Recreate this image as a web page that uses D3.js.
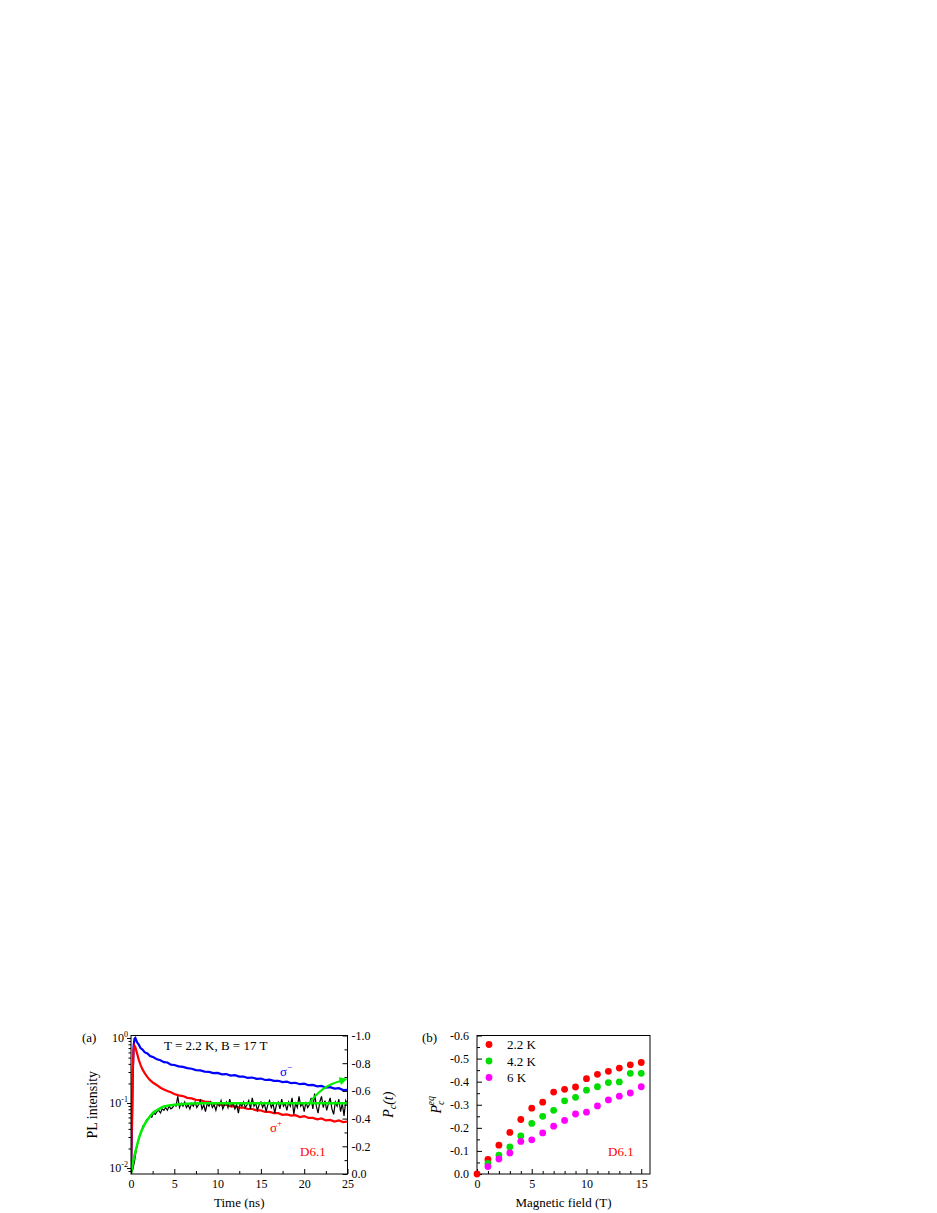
<!DOCTYPE html>
<html>
<head>
<meta charset="utf-8">
<script src="https://cdn.jsdelivr.net/npm/d3@7"></script>
<style>
  body { margin: 0; background: #fff; }
  svg { display: block; font-family: "Liberation Serif", "Times New Roman", serif; }
</style>
</head>
<body>
<svg id="fig"></svg>
<script>
// ---- panel (a): time-resolved PL, sigma- / sigma+ (log scale) ----
const tPL = [0, 0.1, 0.2, 0.3, 0.4, 0.5, 0.7, 0.9, 1.1, 1.3, 1.6, 1.9, 2.2, 2.6, 3.0, 3.4, 3.8, 4.2, 4.6, 5.0,
  5.5, 6, 6.5, 7, 7.5, 8, 8.5, 9, 9.5, 10, 10.5, 11, 11.5, 12, 12.5, 13, 13.5, 14, 14.5, 15,
  15.5, 16, 16.5, 17, 17.5, 18, 18.5, 19, 19.5, 20, 20.5, 21, 21.5, 22, 22.5, 23, 23.5, 24, 24.5, 25]
const sigmaMinus = [0.0085, 0.03, 0.25, 0.75, 0.97, 1.0, 0.86, 0.79, 0.70, 0.67, 0.60, 0.58, 0.53, 0.505, 0.47, 0.455, 0.425, 0.42, 0.39, 0.385,
  0.366, 0.359, 0.344, 0.337, 0.321, 0.318, 0.305, 0.302, 0.289, 0.291, 0.276, 0.279, 0.264, 0.268, 0.255, 0.254, 0.243, 0.247, 0.236, 0.238,
  0.226, 0.229, 0.219, 0.220, 0.210, 0.213, 0.202, 0.205, 0.195, 0.199, 0.188, 0.190, 0.181, 0.183, 0.172, 0.175, 0.167, 0.169, 0.158, 0.160]
const sigmaPlus = [0.0085, 0.05, 0.32, 0.66, 0.76, 0.72, 0.58, 0.46, 0.385, 0.335, 0.285, 0.25, 0.225, 0.203, 0.188, 0.172, 0.162, 0.153, 0.146, 0.138,
  0.131, 0.128, 0.120, 0.118, 0.112, 0.111, 0.105, 0.104, 0.098, 0.098, 0.093, 0.094, 0.089, 0.089, 0.085, 0.085, 0.081, 0.081, 0.077, 0.077,
  0.073, 0.073, 0.070, 0.070, 0.066, 0.067, 0.064, 0.065, 0.061, 0.063, 0.059, 0.059, 0.056, 0.058, 0.054, 0.055, 0.052, 0.054, 0.051, 0.052]

// measured Pc(t) (right axis)
const tPc = [0, 0.2, 0.4, 0.6, 0.8, 1.0, 1.2, 1.4, 1.6, 1.8, 2.0, 2.2, 2.4, 2.6, 2.8, 3.0, 3.2, 3.4, 3.6, 3.8,
  4.0, 4.2, 4.4, 4.6, 4.8, 5.0, 5.2, 5.4, 5.6, 5.8, 6.0, 6.2, 6.4, 6.6, 6.8, 7.0, 7.2, 7.4, 7.6, 7.8,
  8.0, 8.2, 8.4, 8.6, 8.8, 9.0, 9.2, 9.4, 9.6, 9.8, 10.0, 10.2, 10.4, 10.6, 10.8, 11.0, 11.2, 11.4, 11.6, 11.8,
  12.0, 12.2, 12.4, 12.6, 12.8, 13.0, 13.2, 13.4, 13.6, 13.8, 14.0, 14.2, 14.4, 14.6, 14.8, 15.0, 15.2, 15.4, 15.6, 15.8,
  16.0, 16.2, 16.4, 16.6, 16.8, 17.0, 17.2, 17.4, 17.6, 17.8, 18.0, 18.2, 18.4, 18.6, 18.8, 19.0, 19.2, 19.4, 19.6, 19.8,
  20.0, 20.2, 20.4, 20.6, 20.8, 21.0, 21.2, 21.4, 21.6, 21.8, 22.0, 22.2, 22.4, 22.6, 22.8, 23.0, 23.2, 23.4, 23.6, 23.8,
  24.0, 24.2, 24.4, 24.6, 24.8, 25.0]
const pcMeasured = [0, -0.03, -0.09, -0.17, -0.23, -0.28, -0.31, -0.35, -0.36, -0.39, -0.40, -0.42, -0.41, -0.44, -0.43, -0.45, -0.46, -0.44, -0.47, -0.46,
  -0.48, -0.46, -0.49, -0.47, -0.48, -0.50, -0.49, -0.56, -0.48, -0.51, -0.49, -0.52, -0.48, -0.50, -0.47, -0.51, -0.49, -0.52, -0.48, -0.50,
  -0.53, -0.47, -0.50, -0.45, -0.51, -0.49, -0.52, -0.48, -0.50, -0.46, -0.51, -0.49, -0.53, -0.47, -0.50, -0.52, -0.48, -0.54, -0.49, -0.51,
  -0.47, -0.50, -0.44, -0.51, -0.49, -0.52, -0.48, -0.50, -0.53, -0.47, -0.55, -0.49, -0.51, -0.46, -0.50, -0.52, -0.48, -0.51, -0.45, -0.50,
  -0.53, -0.48, -0.51, -0.44, -0.50, -0.52, -0.47, -0.54, -0.49, -0.51, -0.46, -0.52, -0.49, -0.55, -0.43, -0.51, -0.48, -0.56, -0.49, -0.51,
  -0.45, -0.52, -0.48, -0.50, -0.55, -0.47, -0.58, -0.49, -0.44, -0.52, -0.56, -0.48, -0.53, -0.46, -0.51, -0.55, -0.47, -0.43, -0.52, -0.49,
  -0.54, -0.45, -0.51, -0.42, -0.53, -0.50]

// fit of Pc(t)
const fitT = [0, 0.25, 0.5, 0.75, 1.0, 1.5, 2.0, 2.5, 3.0, 3.5, 4.0, 5.0, 6.0, 8.0, 12, 16, 20, 25]
const fitP = [0, -0.09, -0.16, -0.22, -0.275, -0.35, -0.40, -0.44, -0.46, -0.48, -0.49, -0.50, -0.505, -0.51, -0.51, -0.51, -0.51, -0.51]

// arrow towards the right axis
const arrowT = [20.5, 21.3, 22.2, 23.2, 24.2]
const arrowP = [-0.505, -0.565, -0.615, -0.65, -0.672]

// ---- panel (b): equilibrium polarisation vs field ----
const fieldB = [0, 1, 2, 3, 4, 5, 6, 7, 8, 9, 10, 11, 12, 13, 14, 15]
const seriesNames = ["2.2 K", "4.2 K", "6 K"]
const seriesColors = ["#ff0000", "#00dd00", "#ff00ff"]
const pc22 = [0, -0.063, -0.125, -0.18, -0.236, -0.285, -0.311, -0.355, -0.367, -0.377, -0.413, -0.432, -0.445, -0.459, -0.473, -0.483]
const pc42 = [null, -0.046, -0.082, -0.117, -0.165, -0.219, -0.25, -0.276, -0.317, -0.332, -0.363, -0.378, -0.396, -0.399, -0.436, -0.436]
const pc6 = [null, -0.032, -0.065, -0.091, -0.141, -0.148, -0.178, -0.207, -0.232, -0.26, -0.268, -0.295, -0.321, -0.337, -0.351, -0.378]

const W = 937, H = 1213
const A = {left: 131, right: 347.5, top: 1035.5, bottom: 1174}
const B = {left: 477, right: 650, top: 1035.5, bottom: 1174}
const font = 13

const svg = d3.select("#fig").attr("width", W).attr("height", H)

const xA = d3.scaleLinear().domain([0, 25]).range([A.left, A.right])
const yA = d3.scaleLog().domain([0.0081, 1.093]).range([A.bottom, A.top])
const yA2 = d3.scaleLinear().domain([0, -1]).range([A.bottom, A.top])

const xB = d3.scaleLinear().domain([0, 15.8]).range([B.left, B.right])
const yB = d3.scaleLinear().domain([0, -0.6]).range([B.bottom, B.top])

function axis(gen, tx, ty) {
    const g = svg.append("g")
        .attr("transform", `translate(${tx},${ty})`)
        .call(gen)
    g.attr("font-family", null).attr("font-size", 12)
    g.select(".domain").remove()
    g.selectAll("line").attr("stroke", "#000")
    g.selectAll("text").attr("fill", "#000")
    return g
}
const fmt1 = d => d.toFixed(1)

// clip
const defs = svg.append("defs")
defs.append("clipPath").attr("id", "clipA")
    .append("rect")
    .attr("x", A.left).attr("y", A.top)
    .attr("width", A.right - A.left).attr("height", A.bottom - A.top)
defs.append("marker")
    .attr("id", "arrowG")
    .attr("viewBox", "0 0 10 10")
    .attr("refX", 1).attr("refY", 5)
    .attr("markerUnits", "userSpaceOnUse")
    .attr("markerWidth", 10).attr("markerHeight", 8)
    .attr("orient", "auto")
    .append("path")
    .attr("d", "M0,0 L10,5 L0,10 z")
    .attr("fill", "#00ee00")

// ---------------- panel (a) ----------------
const plotA = svg.append("g").attr("clip-path", "url(#clipA)")
const lineLog = d3.line().x(d => xA(d[0])).y(d => yA(d[1]))
const linePc = d3.line().x(d => xA(d[0])).y(d => yA2(d[1]))

plotA.append("path").datum(d3.zip(tPL, sigmaMinus))
    .attr("d", lineLog).attr("fill", "none").attr("stroke", "#0000ff").attr("stroke-width", 2.2)
plotA.append("path").datum(d3.zip(tPL, sigmaPlus))
    .attr("d", lineLog).attr("fill", "none").attr("stroke", "#ff0000").attr("stroke-width", 2.2)
plotA.append("path").datum(d3.zip(tPc, pcMeasured))
    .attr("d", linePc).attr("fill", "none").attr("stroke", "#000").attr("stroke-width", 1.2)
plotA.append("path").datum(d3.zip(fitT, fitP))
    .attr("d", linePc.curve(d3.curveMonotoneX)).attr("fill", "none")
    .attr("stroke", "#00ee00").attr("stroke-width", 2.5)

svg.append("path").datum(d3.zip(arrowT, arrowP))
    .attr("d", d3.line().x(d => xA(d[0])).y(d => yA2(d[1])).curve(d3.curveMonotoneX))
    .attr("fill", "none").attr("stroke", "#00ee00").attr("stroke-width", 2)
    .attr("marker-end", "url(#arrowG)")

svg.append("rect")
    .attr("x", A.left).attr("y", A.top)
    .attr("width", A.right - A.left).attr("height", A.bottom - A.top)
    .attr("fill", "none").attr("stroke", "#000").attr("stroke-width", 1)

// bottom axis (inward ticks)
axis(d3.axisBottom(xA).tickValues([0, 5, 10, 15, 20, 25]).tickSize(-5).tickPadding(5), 0, A.bottom)
axis(d3.axisBottom(xA).tickValues([2.5, 7.5, 12.5, 17.5, 22.5]).tickSize(-3).tickFormat(""), 0, A.bottom)
// left log axis (outward ticks), labels as powers of ten
axis(d3.axisLeft(yA).tickValues([0.01, 0.1, 1]).tickSize(4).tickFormat(""), A.left, 0)
axis(d3.axisLeft(yA).tickValues([0.009, 0.02, 0.03, 0.04, 0.05, 0.06, 0.07, 0.08, 0.09,
    0.2, 0.3, 0.4, 0.5, 0.6, 0.7, 0.8, 0.9]).tickSize(2.5).tickFormat(""), A.left, 0)
const decades = [[1, "0"], [0.1, "-1"], [0.01, "-2"]]
decades.forEach(([v, e]) => {
    const t = svg.append("text")
        .attr("x", A.left - 3).attr("y", yA(v) + 4)
        .attr("text-anchor", "end").attr("font-size", 12)
    t.append("tspan").text("10")
    t.append("tspan").attr("dy", -5).attr("font-size", 8).text(e)
})
// right axis Pc(t)
axis(d3.axisRight(yA2).tickValues([0, -0.2, -0.4, -0.6, -0.8, -1.0]).tickSize(-5).tickPadding(4).tickFormat(fmt1), A.right, 0)
axis(d3.axisRight(yA2).tickValues([-0.1, -0.3, -0.5, -0.7, -0.9]).tickSize(-3).tickFormat(""), A.right, 0)

svg.append("text").attr("x", 82).attr("y", 1042).attr("font-size", font).text("(a)")
svg.append("text").attr("x", 164).attr("y", 1050).attr("font-size", font).text("T = 2.2 K, B = 17 T")

const sm = svg.append("text").attr("x", 280).attr("y", 1076).attr("font-size", font).attr("fill", "#0000ff")
sm.append("tspan").text("σ")
sm.append("tspan").attr("dy", -6).attr("font-size", 9).text("−")
const sp = svg.append("text").attr("x", 270).attr("y", 1132).attr("font-size", font).attr("fill", "#ff0000")
sp.append("tspan").text("σ")
sp.append("tspan").attr("dy", -6).attr("font-size", 9).text("+")

svg.append("text").attr("x", 300).attr("y", 1156).attr("font-size", font).attr("fill", "#ff0000").text("D6.1")

svg.append("text")
    .attr("transform", `translate(97,${(A.top + A.bottom) / 2}) rotate(-90)`)
    .attr("text-anchor", "middle").attr("font-size", 14).text("PL intensity")
svg.append("text")
    .attr("x", (A.left + A.right) / 2).attr("y", 1207)
    .attr("text-anchor", "middle").attr("font-size", font).text("Time (ns)")
const pcl = svg.append("text")
    .attr("transform", `translate(393,${(A.top + A.bottom) / 2}) rotate(-90)`)
    .attr("text-anchor", "middle").attr("font-size", 14).attr("font-style", "italic")
pcl.append("tspan").text("P")
pcl.append("tspan").attr("dy", 3).attr("font-size", 10).text("c")
pcl.append("tspan").attr("dy", -3).text("(t)")

// ---------------- panel (b) ----------------
svg.append("rect")
    .attr("x", B.left).attr("y", B.top)
    .attr("width", B.right - B.left).attr("height", B.bottom - B.top)
    .attr("fill", "none").attr("stroke", "#000").attr("stroke-width", 1)

axis(d3.axisBottom(xB).tickValues([0, 5, 10, 15]).tickSize(-5).tickPadding(5), 0, B.bottom)
axis(d3.axisBottom(xB).tickValues([1, 2, 3, 4, 6, 7, 8, 9, 11, 12, 13, 14]).tickSize(-3).tickFormat(""), 0, B.bottom)
axis(d3.axisLeft(yB).tickValues([0, -0.1, -0.2, -0.3, -0.4, -0.5, -0.6]).tickSize(-5).tickPadding(8).tickFormat(fmt1), B.left, 0)
axis(d3.axisLeft(yB).tickValues([-0.05, -0.15, -0.25, -0.35, -0.45, -0.55]).tickSize(-3).tickFormat(""), B.left, 0)

const seriesB = [pc22, pc42, pc6]
// drawn so that the 6 K points sit on top, the 2.2 K point at B = 0 stays visible
seriesB.forEach((vals, i) => {
    svg.append("g").selectAll("circle")
        .data(d3.zip(fieldB, vals).filter(d => d[1] !== null))
        .join("circle")
        .attr("cx", d => xB(d[0]))
        .attr("cy", d => yB(d[1]))
        .attr("r", 3.4)
        .attr("fill", seriesColors[i])
})

const legend = svg.append("g")
seriesNames.forEach((name, i) => {
    const y = 1044.5 + i * 16.5
    legend.append("circle").attr("cx", 489).attr("cy", y).attr("r", 3.4).attr("fill", seriesColors[i])
    legend.append("text").attr("x", 507).attr("y", y + 4.5).attr("font-size", font).text(name)
})

svg.append("text").attr("x", 422).attr("y", 1042).attr("font-size", font).text("(b)")
svg.append("text").attr("x", 608).attr("y", 1156).attr("font-size", font).attr("fill", "#ff0000").text("D6.1")
svg.append("text")
    .attr("x", (B.left + B.right) / 2).attr("y", 1207)
    .attr("text-anchor", "middle").attr("font-size", font).text("Magnetic field (T)")
const peq = svg.append("text")
    .attr("transform", `translate(441,${(B.top + B.bottom) / 2}) rotate(-90)`)
    .attr("text-anchor", "middle").attr("font-size", 14).attr("font-style", "italic")
peq.append("tspan").text("P")
peq.append("tspan").attr("dy", 3).attr("font-size", 10).text("c")
peq.append("tspan").attr("dx", -5).attr("dy", -10).attr("font-size", 10).text("eq")
</script>
</body>
</html>
